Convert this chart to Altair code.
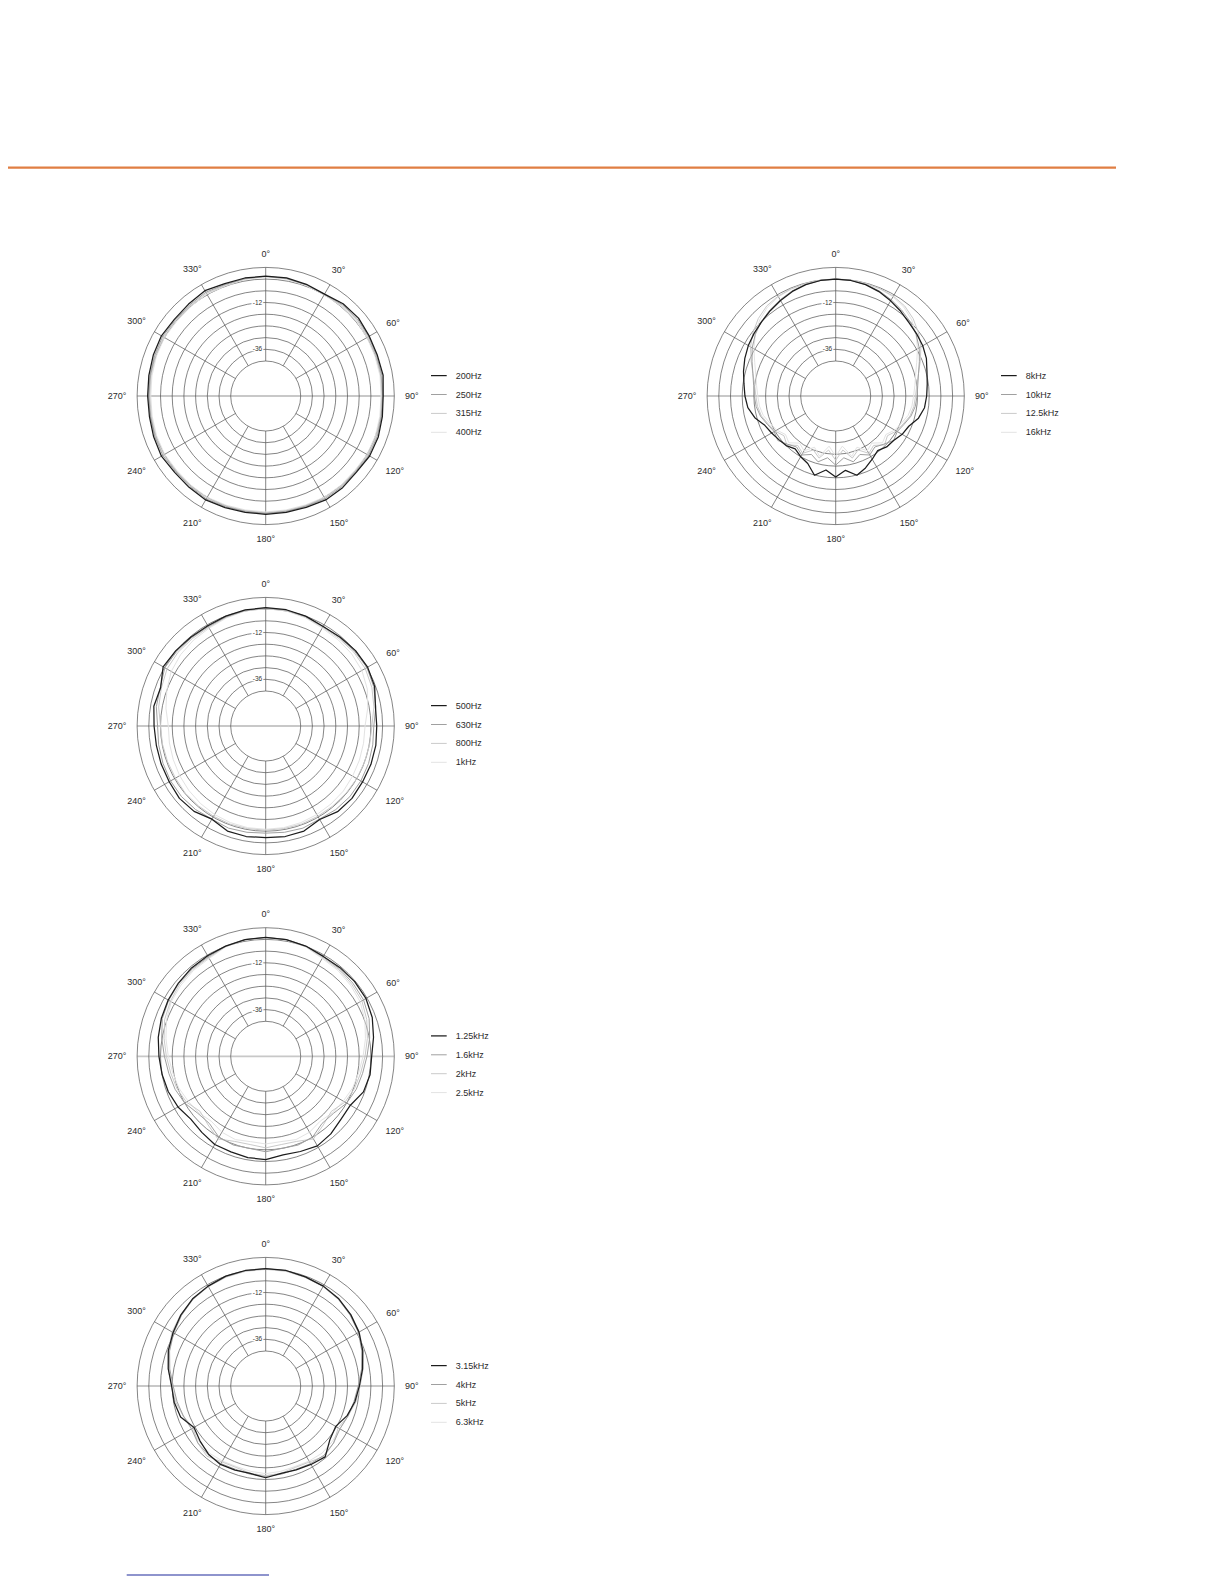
import altair as alt
import pandas as pd

# ---------------- data ----------------
ANG10 = list(range(0, 360, 10))
ANG75 = [i * 7.5 for i in range(48)]

LEGEND_1 = ["200Hz", "250Hz", "315Hz", "400Hz"]
LEGEND_2 = ["500Hz", "630Hz", "800Hz", "1kHz"]
LEGEND_3 = ["1.25kHz", "1.6kHz", "2kHz", "2.5kHz"]
LEGEND_4 = ["3.15kHz", "4kHz", "5kHz", "6.3kHz"]
LEGEND_5 = ["8kHz", "10kHz", "12.5kHz", "16kHz"]

P1_200 = [1.5, 1.6, 1.0, 0.4, 1.8, 2.2, 1.4, 1.0, 1.2, 0.3, 0.8, 1.5, 1.6, 0.8, 1.4, 1.6, 0.8, 0.6,
          0.8, 0.6, 1.0, 1.6, 1.2, 1.0, 1.8, 1.2, 0.6, 0.6, 0.9, 1.4, 1.8, 1.2, 1.6, 2.4, 1.4, 1.5]
P1_250 = [1.4, 1.3, 0.8, 0.3, 1.2, 1.5, 1.0, 0.6, 0.6, 0.0, 0.4, 0.9, 1.0, 0.4, 0.8, 0.9, 0.3, 0.2,
          0.3, 0.2, 0.5, 1.0, 0.6, 0.4, 1.0, 0.6, 0.1, 0.0, 0.3, 0.7, 1.1, 0.6, 0.9, 1.5, 0.9, 1.2]
P1_315 = [1.3, 1.1, 0.6, 0.1, 0.7, 0.9, 0.5, 0.2, 0.1, -0.4, -0.1, 0.4, 0.5, 0.0, 0.3, 0.4, -0.1, -0.2,
          -0.1, -0.2, 0.0, 0.4, 0.1, -0.1, 0.4, 0.1, -0.4, -0.5, -0.2, 0.2, 0.5, 0.1, 0.4, 0.9, 0.5, 1.0]
P1_400 = [1.2, 0.9, 0.4, -0.1, 0.3, 0.4, 0.0, -0.3, -0.4, -0.8, -0.5, -0.1, 0.0, -0.4, -0.1, 0.0, -0.5, -0.6,
          -0.5, -0.6, -0.4, 0.0, -0.3, -0.5, -0.1, -0.4, -0.8, -1.0, -0.7, -0.3, 0.0, -0.4, -0.1, 0.4, 0.2, 0.8]

P2_500 = [0.7, 0.6, 0.0, -1.0, -0.5, 0.2, 0.4, -0.5, -2.8, -3.0, -2.6, -2.5, -2.6, -2.2, -2.6, -4.6, -2.6, -2.4,
          -2.7, -2.4, -2.6, -4.8, -2.8, -2.2, -2.8, -2.9, -3.0, -2.7, -1.7, -2.6, 0.8, 0.2, -0.4, -0.6, 0.0, 0.5]
P2_630 = [0.5, 0.4, -0.2, -1.0, -0.8, -0.4, 0.0, -1.0, -2.6, -4.5, -4.2, -3.8, -3.6, -3.6, -4.0, -4.8, -4.2, -4.6,
          -5.0, -4.6, -4.2, -4.8, -4.0, -3.6, -3.6, -3.9, -4.2, -4.5, -3.0, -2.4, -0.2, -0.4, -0.8, -1.0, -0.4, 0.3]
P2_800 = [0.3, 0.2, -0.5, -1.5, -1.4, -1.0, -1.0, -2.0, -3.6, -5.5, -5.8, -6.0, -6.0, -6.2, -6.4, -6.5, -6.4, -6.5,
          -6.5, -6.5, -6.4, -6.5, -6.4, -6.2, -6.5, -6.4, -6.2, -6.0, -4.2, -3.0, -1.5, -1.2, -1.4, -1.5, -0.6, 0.1]
P2_1K = [0.2, 0.0, -0.8, -2.0, -2.2, -2.4, -3.0, -4.5, -6.8, -9.0, -9.0, -8.8, -8.5, -8.0, -7.8, -7.5, -7.2, -7.0,
         -7.0, -7.0, -7.2, -7.5, -8.0, -8.5, -9.0, -9.5, -9.8, -10.0, -8.0, -6.0, -4.0, -3.0, -2.4, -2.0, -1.0, 0.0]

P3_125 = [1.0, 0.8, 0.2, -0.8, -0.6, -0.4, -0.6, -1.8, -3.8, -5.6, -5.6, -6.6, -9.8, -9.6, -8.0, -6.9, -8.0, -8.6,
          -7.0, -7.2, -7.8, -7.7, -9.0, -9.8, -8.0, -6.8, -6.0, -5.2, -4.0, -3.0, -2.2, -1.5, -0.8, -0.4, 0.2, 0.8]
P3_16 = [1.0, 0.9, 0.2, -1.0, -1.2, -1.6, -2.0, -3.5, -5.8, -8.0, -9.5, -10.5, -12.0, -14.5, -15.0, -12.0, -11.5, -12.0,
         -11.0, -12.0, -11.5, -12.0, -15.0, -14.5, -12.0, -10.5, -9.5, -8.0, -5.8, -3.5, -2.5, -1.8, -1.3, -1.0, 0.2, 0.9]
P3_2K = [1.0, 0.8, 0.0, -1.5, -1.8, -2.4, -3.0, -4.8, -7.0, -9.0, -10.5, -11.5, -13.0, -16.0, -14.0, -11.0, -13.5, -14.0,
         -13.0, -14.0, -13.5, -11.0, -14.0, -16.0, -13.0, -11.5, -10.5, -9.0, -7.0, -4.8, -3.5, -2.4, -1.8, -1.5, 0.0, 0.8]
P3_25 = [0.8, 0.6, -0.2, -2.0, -2.4, -3.2, -4.0, -5.8, -8.0, -10.0, -11.5, -12.5, -14.0, -15.0, -16.5, -15.0, -14.5, -15.5,
         -15.0, -15.5, -14.5, -15.0, -16.5, -15.0, -14.0, -12.5, -11.5, -10.0, -8.0, -5.8, -4.0, -3.2, -2.4, -2.0, -0.2, 0.6]

P4_315 = [0.2, 0.2, -0.4, -0.8, -1.6, -3.0, -4.7, -7.0, -9.5, -11.9, -13.5, -15.5, -18.5, -17.0, -12.5, -13.5, -14.2, -14.4,
          -12.9, -14.4, -14.0, -13.5, -14.3, -16.0, -17.5, -13.5, -12.3, -11.7, -9.2, -6.8, -5.1, -3.2, -1.6, -0.8, 0.0, 0.2]
P4_4K = [0.2, 0.1, -0.5, -1.0, -1.9, -3.4, -5.0, -7.5, -10.0, -12.5, -14.0, -15.0, -16.0, -14.5, -13.5, -14.0, -14.5, -14.0,
         -13.5, -14.0, -14.5, -14.0, -14.0, -14.5, -16.0, -15.0, -13.8, -12.5, -10.0, -7.5, -5.5, -3.6, -1.9, -1.0, -0.3, 0.1]
P4_5K = [0.0, -0.1, -0.6, -1.0, -1.8, -3.0, -4.5, -6.8, -9.2, -11.5, -13.0, -15.0, -17.0, -14.5, -13.0, -15.0, -15.5, -14.5,
         -14.0, -14.5, -15.5, -15.0, -13.0, -14.5, -17.0, -15.0, -13.0, -11.5, -9.2, -6.8, -4.5, -3.0, -1.8, -1.0, -0.4, -0.1]
P4_63 = [-0.2, -0.3, -0.8, -1.2, -2.0, -3.4, -5.0, -7.4, -9.8, -12.0, -13.5, -15.0, -16.0, -15.5, -15.0, -15.5, -16.0, -15.5,
         -15.0, -15.5, -16.0, -15.5, -15.0, -15.5, -16.0, -15.0, -13.5, -12.0, -9.8, -7.4, -5.0, -3.4, -2.0, -1.2, -0.6, -0.3]

P5_8K = [0.0, -0.2, -0.8, -2.0, -3.6, -5.2, -6.8, -7.6, -8.4, -9.6, -11.5, -12.6, -13.3, -14.0, -16.0, -19.4,
         -20.6, -22.5, -23.0, -24.6, -22.5, -20.0, -17.9, -21.5, -18.4, -21.7, -17.9, -22.5, -24.0, -25.8, -24.0, -23.2,
         -22.0, -20.6, -17.0, -14.5, -13.4, -12.5, -11.0, -9.5, -8.2, -7.2, -6.2, -4.8, -3.4, -1.9, -0.8, -0.2]
P5_10K = [0.0, -0.2, -0.7, -1.6, -3.0, -4.4, -6.0, -8.0, -10.5, -13.5, -16.0, -17.5, -18.2, -18.8, -20.0, -22.0,
          -23.5, -22.5, -25.0, -27.0, -25.0, -27.5, -25.0, -28.0, -24.5, -28.0, -25.0, -27.5, -25.0, -27.0, -25.0, -22.5,
          -23.5, -22.0, -20.0, -18.8, -18.2, -17.5, -16.0, -13.5, -10.5, -8.0, -6.0, -4.4, -3.0, -1.6, -0.7, -0.2]
P5_125K = [0.0, 0.0, -0.2, -0.4, -0.8, -1.8, -3.8, -6.5, -9.5, -13.0, -16.0, -18.0, -19.0, -19.5, -20.5, -22.5,
           -24.0, -26.5, -24.5, -28.0, -26.0, -30.0, -27.0, -32.0, -27.0, -32.0, -27.0, -30.0, -26.0, -28.0, -24.5, -26.5,
           -24.0, -22.5, -20.5, -19.5, -19.0, -18.0, -16.0, -13.0, -9.5, -6.5, -3.8, -1.8, -0.8, -0.4, -0.2, 0.0]
P5_16K = [-0.2, -0.2, -0.4, -0.6, -1.2, -2.5, -4.8, -8.0, -11.5, -15.0, -17.5, -19.0, -20.0, -20.5, -21.5, -23.5,
          -25.0, -27.5, -26.0, -29.5, -27.5, -31.5, -28.0, -34.0, -29.0, -34.0, -28.0, -31.5, -27.5, -29.5, -26.0, -27.5,
          -25.0, -23.5, -21.5, -20.5, -20.0, -19.0, -17.5, -15.0, -11.5, -8.0, -4.8, -2.5, -1.2, -0.6, -0.4, -0.2]

ANGLE_LABELS = [0, 30, 60, 90, 120, 150, 180, 210, 240, 270, 300, 330]
RING_DB = [-42, -36, -30, -24, -18, -12, -6, 0, 6]
SCALE_LABEL_DB = [-12, -36]

# ---------------- layout / style (not data) ----------------
W, H = 1208, 1568
CENTERS = [(257.7, 388.0), (257.7, 718.0), (257.7, 1048.3), (257.7, 1378.0), (827.7, 388.0)]
R_IN = 35.0          # radius of the -42 dB ring in px
PX_PER_DB = 11.7 / 6  # ring spacing 11.7 px per 6 dB
R_OUT = R_IN + 48 * PX_PER_DB
COLORS = ["#1c1c1c", "#a0a0a0", "#cacaca", "#e3e3e3"]
WIDTHS = [1.25, 1.0, 1.0, 1.0]
FONT = "Liberation Sans"

panels = [
    (ANG10, LEGEND_1, [P1_200, P1_250, P1_315, P1_400]),
    (ANG10, LEGEND_2, [P2_500, P2_630, P2_800, P2_1K]),
    (ANG10, LEGEND_3, [P3_125, P3_16, P3_2K, P3_25]),
    (ANG10, LEGEND_4, [P4_315, P4_4K, P4_5K, P4_63]),
    (ANG75, LEGEND_5, [P5_8K, P5_10K, P5_125K, P5_16K]),
]

curve_rows, legend_rows, ring_rows, spoke_rows, lab_rows, db_rows, hline_rows = [], [], [], [], [], [], []
for p, ((angs, names, series), (cx, cy)) in enumerate(zip(panels, CENTERS)):
    for rank, (name, vals) in enumerate(zip(names, series)):
        closed_a = list(angs) + [360]
        closed_v = list(vals) + [vals[0]]
        for i, (a, v) in enumerate(zip(closed_a, closed_v)):
            curve_rows.append(dict(key=f"{p}-{name}", rank=rank, i=i, ang=a, db=v, cx=cx, cy=cy))
        legend_rows.append(dict(name=name, rank=rank, cx=cx, cy=cy, w=WIDTHS[rank]))
    for d in RING_DB:
        ring_rows.append(dict(db=d, cx=cx, cy=cy))
    for a in ANGLE_LABELS:
        if a not in (90, 270):
            spoke_rows.append(dict(ang=a, cx=cx, cy=cy))
        lab_rows.append(dict(ang=a, label=f"{a}°", cx=cx, cy=cy))
    for d in SCALE_LABEL_DB:
        db_rows.append(dict(db=d, label=str(d), cx=cx, cy=cy))
    hline_rows.append(dict(cx=cx, cy=cy))

curves = pd.DataFrame(curve_rows)
legend = pd.DataFrame(legend_rows)
rings = pd.DataFrame(ring_rows)
spokes = pd.DataFrame(spoke_rows)
labs = pd.DataFrame(lab_rows)
dbl = pd.DataFrame(db_rows)
hlines = pd.DataFrame(hline_rows)

XS = alt.Scale(domain=[0, W], nice=False, zero=False)
YS = alt.Scale(domain=[0, H], nice=False, zero=False, reverse=True)

R_EXPR = f"{R_IN} + (datum.db + 42) * {PX_PER_DB}"


def X(f):
    return alt.X(f, type="quantitative", scale=XS, axis=None)


def Y(f):
    return alt.Y(f, type="quantitative", scale=YS, axis=None)


# gray 90-270 line through centre
hl = alt.Chart(hlines).transform_calculate(
    x1=f"datum.cx - {R_OUT}", x2=f"datum.cx + {R_OUT}"
).mark_rule(color="#c8c8c8", strokeWidth=1.8).encode(x=X("x1"), x2="x2:Q", y=Y("cy"))

# rings: circle symbols whose area gives the ring radius (circle symbol diameter = sqrt(size))
ring = alt.Chart(rings).transform_calculate(
    r=R_EXPR, s="4 * datum.r * datum.r"
).mark_point(shape="circle", filled=False, color="#505050", strokeWidth=0.7, opacity=1).encode(
    x=X("cx"), y=Y("cy"), size=alt.Size("s:Q", scale=None, legend=None))

# spokes
spoke = alt.Chart(spokes).transform_calculate(
    sx=f"datum.cx + {R_IN} * sin(datum.ang * PI / 180)",
    sy=f"datum.cy - {R_IN} * cos(datum.ang * PI / 180)",
    ex=f"datum.cx + {R_OUT} * sin(datum.ang * PI / 180)",
    ey=f"datum.cy - {R_OUT} * cos(datum.ang * PI / 180)",
).mark_rule(color="#505050", strokeWidth=0.7).encode(x=X("sx"), y=Y("sy"), x2="ex:Q", y2="ey:Q")

# dB scale labels (-12, -36) with white halo
db_base = alt.Chart(dbl).transform_calculate(
    r=R_EXPR, tx="datum.cx - 3.5", ty="datum.cy - datum.r"
)
db_halo = db_base.mark_text(align="right", baseline="middle", fontSize=6.5, font=FONT,
                            stroke="white", strokeWidth=3, color="white").encode(
    x=X("tx"), y=Y("ty"), text="label:N")
db_text = db_base.mark_text(align="right", baseline="middle", fontSize=6.5, font=FONT,
                            color="#333333").encode(x=X("tx"), y=Y("ty"), text="label:N")

# data curves
cbase = alt.Chart(curves).transform_calculate(
    r=R_EXPR,
    px="datum.cx + datum.r * sin(datum.ang * PI / 180)",
    py="datum.cy - datum.r * cos(datum.ang * PI / 180)",
)
curve_layers = []
for rank in [3, 2, 1, 0]:
    curve_layers.append(
        cbase.transform_filter(alt.datum.rank == rank)
        .mark_line(color=COLORS[rank], strokeWidth=WIDTHS[rank], strokeJoin="round")
        .encode(x=X("px"), y=Y("py"), detail="key:N", order="i:Q")
    )

# angle labels
ang_lab = alt.Chart(labs).transform_calculate(
    rl="139 + 2.4 * length(datum.label) * abs(sin(datum.ang * PI / 180)) + 3.5 * abs(cos(datum.ang * PI / 180))",
    tx="datum.cx + datum.rl * sin(datum.ang * PI / 180)",
    ty="datum.cy - datum.rl * cos(datum.ang * PI / 180)",
).mark_text(align="center", baseline="middle", fontSize=9, font=FONT, color="#2b2b2b").encode(
    x=X("tx"), y=Y("ty"), text="label:N")

# legends
lbase = alt.Chart(legend).transform_calculate(
    lx1="datum.cx + 165.3", lx2="datum.cx + 181", tx="datum.cx + 190",
    ly="datum.cy - 20.4 + 18.9 * datum.rank"
)
leg_line = lbase.mark_rule().encode(
    x=X("lx1"), x2="lx2:Q", y=Y("ly"),
    color=alt.Color("rank:O", scale=alt.Scale(domain=[0, 1, 2, 3], range=COLORS), legend=None),
    strokeWidth=alt.StrokeWidth("w:Q", scale=None),
)
leg_text = lbase.mark_text(align="left", baseline="middle", fontSize=9, font=FONT, color="#2b2b2b").encode(
    x=X("tx"), y=Y("ly"), text="name:N")

# decorative page rules
one = pd.DataFrame({"k": [0]})
orange = alt.Chart(one).mark_rule(color="#E07E43", strokeWidth=2.2).encode(
    x=alt.X(datum=0, scale=XS, axis=None), x2=alt.X2(datum=1108), y=alt.Y(datum=159.7, scale=YS, axis=None))
blue = alt.Chart(one).mark_rule(color="#1f2a9c", strokeWidth=1.2).encode(
    x=alt.X(datum=118.7, scale=XS, axis=None), x2=alt.X2(datum=261), y=alt.Y(datum=1567, scale=YS, axis=None))

chart = alt.layer(
    hl, ring, spoke, db_halo, db_text, *curve_layers, ang_lab, leg_line, leg_text, orange, blue
).properties(
    width=W, height=H, padding=0, autosize=alt.AutoSizeParams(type="none"),
    background="white",
).configure_view(stroke=None)

chart.save("out.html", embed_options={"renderer": "svg", "actions": False})
